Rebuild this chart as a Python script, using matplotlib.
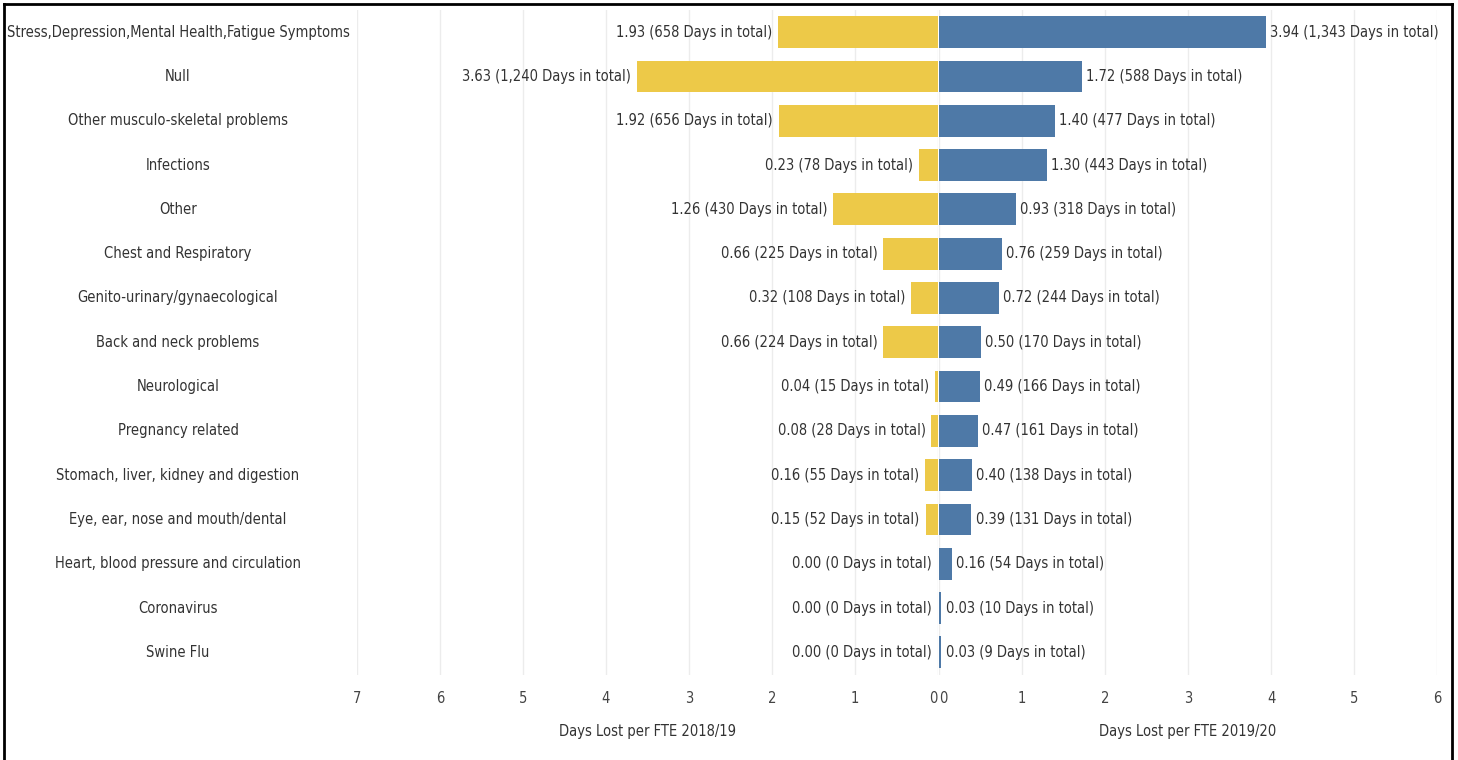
import matplotlib
matplotlib.use("Agg")
import matplotlib.pyplot as plt
from matplotlib.transforms import blended_transform_factory
from matplotlib.lines import Line2D
from matplotlib import font_manager

categories = ["Stress,Depression,Mental Health,Fatigue Symptoms", "Null",
              "Other musculo-skeletal problems", "Infections", "Other",
              "Chest and Respiratory", "Genito-urinary/gynaecological",
              "Back and neck problems", "Neurological", "Pregnancy related",
              "Stomach, liver, kidney and digestion",
              "Eye, ear, nose and mouth/dental",
              "Heart, blood pressure and circulation", "Coronavirus", "Swine Flu"]
fte_1819 = [1.93, 3.63, 1.92, 0.23, 1.26, 0.66, 0.32, 0.66, 0.04, 0.08, 0.16, 0.15, 0.00, 0.00, 0.00]
days_1819 = [658, 1240, 656, 78, 430, 225, 108, 224, 15, 28, 55, 52, 0, 0, 0]
fte_1920 = [3.94, 1.72, 1.40, 1.30, 0.93, 0.76, 0.72, 0.50, 0.49, 0.47, 0.40, 0.39, 0.16, 0.03, 0.03]
days_1920 = [1343, 588, 477, 443, 318, 259, 244, 170, 166, 161, 138, 131, 54, 10, 9]

names = set(f.name for f in font_manager.fontManager.ttflist)
if 'Liberation Sans Narrow' in names:
    plt.rcParams['font.family'] = ['Liberation Sans Narrow', 'DejaVu Sans']
    fs = 12.5
else:
    plt.rcParams['font.family'] = ['DejaVu Sans']
    plt.rcParams['font.stretch'] = 'condensed'
    fs = 10.5
plt.rcParams['font.size'] = fs

W, H = 1458, 760
fig = plt.figure(figsize=(W / 100, H / 100), dpi=100)

bot = (H - 674.5) / H
hgt = 664.5 / H
ax_l = fig.add_axes([357 / W, bot, 581 / W, hgt])
ax_r = fig.add_axes([939 / W, bot, 498 / W, hgt])

yellow = "#EDC948"
blue = "#4E79A7"
txt = "#333333"
y = list(range(len(categories)))

ax_l.barh(y, fte_1819, height=0.72, color=yellow)
ax_r.barh(y, fte_1920, height=0.72, color=blue)
ax_l.set_xlim(7, 0)
ax_r.set_xlim(0, 6)

for ax in (ax_l, ax_r):
    ax.set_ylim(len(categories) - 0.5, -0.5)
    ax.set_yticks([])
    for s in ax.spines.values():
        s.set_visible(False)
    ax.set_axisbelow(True)
    ax.grid(axis="x", color="#ececec", linewidth=1)
    ax.tick_params(axis="x", length=0, pad=12, labelsize=fs, labelcolor="#444444")

ax_l.set_xticks(range(0, 8))
ax_r.set_xticks(range(0, 7))
ax_l.xaxis.get_major_ticks()[0].label1.set_horizontalalignment("right")
ax_r.xaxis.get_major_ticks()[0].label1.set_horizontalalignment("left")
ax_l.set_xlabel("Days Lost per FTE 2018/19", fontsize=fs, color=txt, labelpad=13)
ax_r.set_xlabel("Days Lost per FTE 2019/20", fontsize=fs, color=txt, labelpad=13)

for i in y:
    ax_l.text(fte_1819[i] + 0.07, i, f"{fte_1819[i]:.2f} ({days_1819[i]:,} Days in total)",
              ha="right", va="center", fontsize=fs, color=txt)
    ax_r.text(fte_1920[i] + 0.05, i, f"{fte_1920[i]:.2f} ({days_1920[i]:,} Days in total)",
              ha="left", va="center", fontsize=fs, color=txt)

tr = blended_transform_factory(fig.transFigure, ax_l.transData)
for i, c in enumerate(categories):
    fig.text(178 / W, i, c, transform=tr, ha="center", va="center", fontsize=fs, color=txt)

# frame
lw = 2
fig.add_artist(Line2D([4 / W, 4 / W], [0, 1 - 4 / H], color="black", lw=lw))
fig.add_artist(Line2D([4 / W, 1452 / W], [1 - 4 / H, 1 - 4 / H], color="black", lw=lw))
fig.add_artist(Line2D([1452 / W, 1452 / W], [0, 1 - 4 / H], color="black", lw=lw))

fig.savefig("out.png", dpi=100)
